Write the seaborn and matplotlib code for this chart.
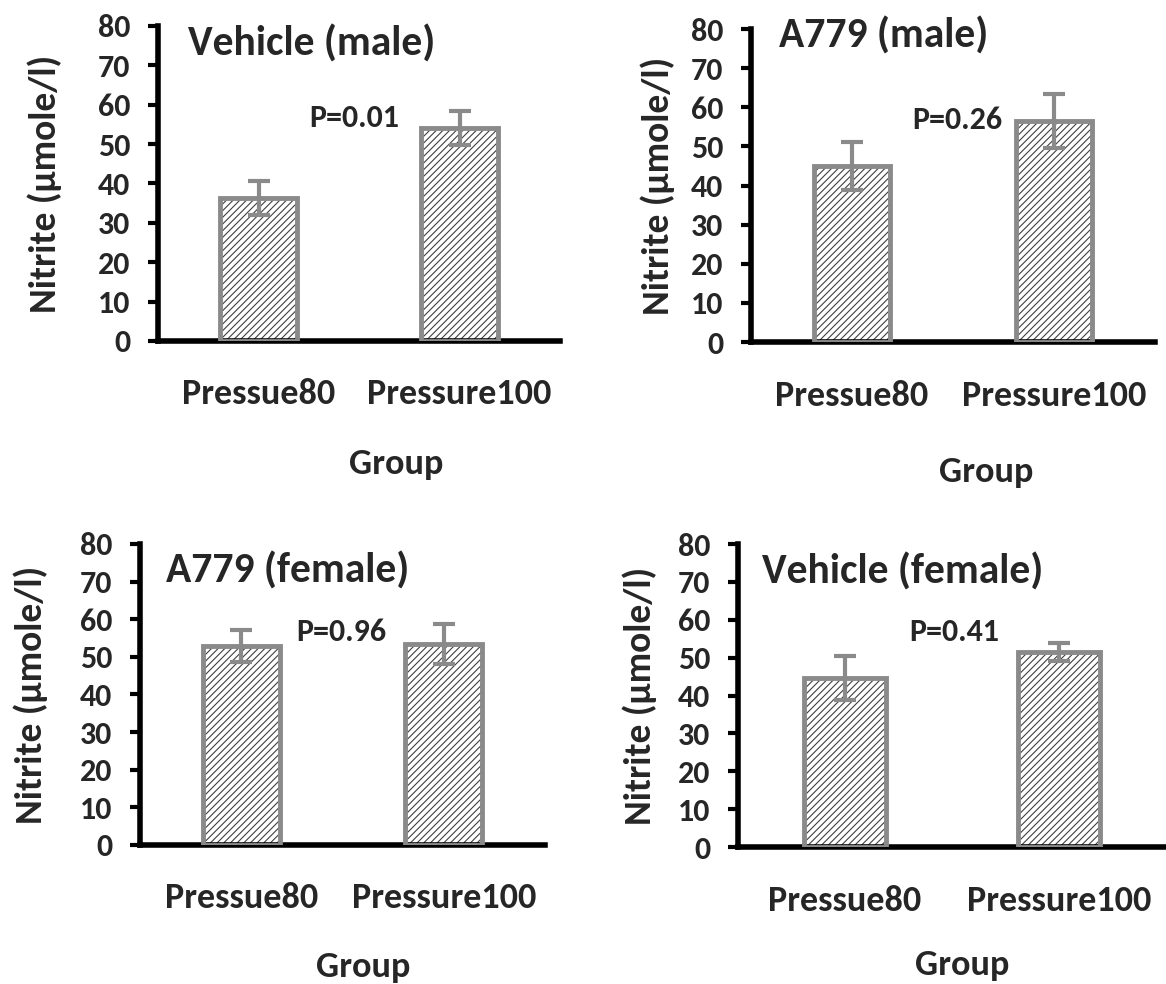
#Nitrito por grupo de presion: 4 paneles (vehicle / A779, macho / hembra)
import numpy as np
import matplotlib
matplotlib.use("Agg")
import matplotlib.pyplot as plt
from matplotlib.patches import Rectangle
import seaborn as sns

#datos
groups = ['Pressue80', 'Pressure100']

vehicle_male_mean = [36.3, 54.1]
vehicle_male_err = [4.3, 4.4]
a779_male_mean = [45.0, 56.5]
a779_male_err = [6.2, 7.0]
a779_female_mean = [52.9, 53.4]
a779_female_err = [4.3, 5.2]
vehicle_female_mean = [44.6, 51.5]
vehicle_female_err = [5.8, 2.3]

titles = ['Vehicle (male)', 'A779 (male)', 'A779 (female)', 'Vehicle (female)']
p_values = ['P=0.01', 'P=0.26', 'P=0.96', 'P=0.41']
y_ticks = [0, 10, 20, 30, 40, 50, 60, 70, 80]

sns.set_style('ticks')
plt.rcParams['font.family'] = ['Carlito', 'DejaVu Sans']
plt.rcParams['font.weight'] = 'bold'
plt.rcParams['hatch.linewidth'] = 0.8

gris = '#8a8a8a'
trama = '#404040'

fig = plt.figure(figsize=(11.66, 9.84), dpi=100)

#posicion de cada panel [left, bottom, width, height]
rects = [[0.1355, 0.6535, 0.3448, 0.3201],
         [0.6441, 0.6524, 0.3465, 0.3181],
         [0.1201, 0.1413, 0.3473, 0.3059],
         [0.6329, 0.1392, 0.3671, 0.3079]]
means = [vehicle_male_mean, a779_male_mean, a779_female_mean, vehicle_female_mean]
errs = [vehicle_male_err, a779_male_err, a779_female_err, vehicle_female_err]

#posicion de textos por panel
title_xy = [(-0.35, 72.6), (-0.36, 75.2), (-0.37, 69.7), (-0.39, 69.7)]
p_xy = [(0.25, 54.3), (0.30, 54.5), (0.27, 54.3), (0.30, 54.4)]
ylab_x = [-0.239, -0.188, -0.228, -0.190]
xlab_xy = [(0.592, -0.340), (0.582, -0.365), (0.551, -0.353), (0.523, -0.338)]

for i in range(4):
    ax = fig.add_axes(rects[i])
    sns.barplot(x=groups, y=means[i], color='white', saturation=1, width=0.38,
                edgecolor=trama, linewidth=0, hatch='/////', errorbar=None, ax=ax)
    #borde gris encima de la trama
    for p in list(ax.patches):
        ax.add_patch(Rectangle(p.get_xy(), p.get_width(), p.get_height(),
                               fill=False, edgecolor=gris, linewidth=3.5, zorder=3))
    ax.errorbar(np.arange(len(groups)), means[i], yerr=errs[i], fmt='none',
                ecolor=gris, elinewidth=3, capsize=8, capthick=3, zorder=4)

    ax.set_xlim(-0.5, 1.5)
    ax.set_ylim(0, 80)
    ax.set_yticks(y_ticks)
    ax.tick_params(axis='y', labelsize=23, length=7, width=3, pad=13, color='black')
    ax.tick_params(axis='x', labelsize=26, length=0, pad=27)
    sns.despine(ax=ax)
    for s in ['left', 'bottom']:
        ax.spines[s].set_linewidth(4)
        ax.spines[s].set_color('black')

    ax.set_ylabel('Nitrite (\u00b5mole/l)', fontsize=27, fontweight='bold')
    ax.yaxis.set_label_coords(ylab_x[i], 0.5)
    ax.set_xlabel('Group', fontsize=26, fontweight='bold')
    ax.xaxis.set_label_coords(xlab_xy[i][0], xlab_xy[i][1])

    ax.text(title_xy[i][0], title_xy[i][1], titles[i], fontsize=30, fontweight='bold')
    ax.text(p_xy[i][0], p_xy[i][1], p_values[i], fontsize=23, fontweight='bold')

plt.savefig('out.png', dpi=100)
